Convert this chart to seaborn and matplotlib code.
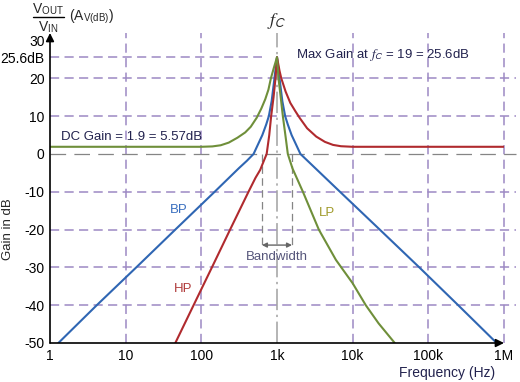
import numpy as np
import matplotlib
matplotlib.use("Agg")
import matplotlib.pyplot as plt
import seaborn as sns

# ---- data (frequency in Hz, gain in dB) ----
bp_freq = [1.29, 4.15, 13.8, 45.3, 150, 312, 400, 490, 560, 640, 720, 780, 850, 925, 1000,
           1080, 1176, 1282, 1389, 1560, 1785, 2040, 6800, 22800, 76000, 248000, 800000]
bp_gain = [-50, -40, -30, -20, -10, -3.8, -1.8, 0, 2.5, 5, 7.8, 10, 14, 20, 25.6,
           20, 14, 10, 7.8, 5, 2.5, 0, -10, -20, -30, -40, -50]

hp_freq = [45.3, 79, 138, 240, 420, 520, 600, 680, 730, 790, 837, 900, 955, 1000,
           1080, 1140, 1300, 1500, 1750, 2000, 2500, 3300, 4300, 5500, 7000, 10000, 1000000]
hp_gain = [-50, -40, -30, -20, -10, -6.3, -4.2, -1.5, 0, 5, 10, 15, 20, 25.6,
           22, 20, 16.5, 13.5, 11.3, 9.5, 6.8, 4.6, 3.2, 2.4, 2.05, 1.9, 1.9]

lp_freq = [1, 100, 140, 180, 230, 300, 380, 450, 540, 620, 700, 770, 830, 900, 1000,
           1047, 1120, 1195, 1300, 1390, 1600, 2200, 3570, 6000, 10000, 14900, 22000, 36000]
lp_gain = [1.9, 1.9, 2.0, 2.3, 3.0, 4.3, 5.7, 7.2, 9.6, 12, 14.5, 17, 20, 22.5, 25.6,
           20, 15, 10, 4.5, 0, -3.8, -10, -20, -28, -34.2, -40, -44.8, -50]

y_ticks = [-50, -40, -30, -20, -10, 0, 10, 20, 25.6, 30]
y_labels = ["-50", "-40", "-30", "-20", "-10", "0", "10", "20", "25.6dB", "30"]
x_ticks = [1, 10, 100, 1e3, 1e4, 1e5, 1e6]
x_labels = ["1", "10", "100", "1k", "10k", "100k", "1M"]

grid_h = [20, 10, -10, -20, -30, -40]
grid_v = [10, 100, 1e4, 1e5, 1e6]
bw_low, bw_high = 632, 1580

BLUE = "#2f66b3"
RED = "#b02a2e"
GREEN = "#6f8f3a"
PURPLE = "#9d89c3"
GRAY = "#858585"
NAVY = "#22224e"

sns.set_style("white")
plt.rcParams["font.family"] = ["Liberation Sans", "DejaVu Sans"]
plt.rcParams["mathtext.fontset"] = "stix"

W, H = 520, 382
fig = plt.figure(figsize=(W / 100, H / 100), dpi=100)
# axes placed in pixels: x 50..504, y 33..343
ax = fig.add_axes([50 / W, 1 - 343 / H, 454 / W, 310 / H])
ax.set_xscale("log")
ax.set_xlim(1, 1e6)
ax.set_ylim(-50, 32)
for s in ax.spines.values():
    s.set_visible(False)

# grid
for g in grid_h:
    ax.plot([1, 1.45e6], [g, g], color=PURPLE, lw=1.1, ls=(0, (6, 3.5)), clip_on=False, zorder=1)
for g in grid_v:
    ax.plot([g, g], [-50, 32], color=PURPLE, lw=1.1, ls=(0, (6, 3.5)), clip_on=False, zorder=1)
ax.plot([1, 630], [25.6, 25.6], color=PURPLE, lw=1.1, ls=(0, (6, 3.5)), zorder=1)
ax.plot([1, 1.45e6], [0, 0], color=GRAY, lw=0.9, ls=(0, (12.5, 6.6)), clip_on=False, zorder=1)
ax.plot([1000, 1000], [-50, 32], color="#a0a0a0", lw=1.1, ls=(0, (14, 3, 1.5, 3)), zorder=1)

# bandwidth markers
for f in [bw_low, bw_high]:
    ax.plot([f, f], [0, -24.3], color=GRAY, lw=0.9, ls=(0, (6, 3.5)), zorder=1)
ax.annotate("", xy=(bw_low, -24.1), xytext=(bw_high, -24.1),
            arrowprops=dict(arrowstyle="<|-|>", color="#666666", lw=1.0,
                            mutation_scale=7, shrinkA=0, shrinkB=0))
ax.text(1000, -27.2, "Bandwidth", color="#55557a", fontsize=9.5, ha="center", va="center")

# curves
sns.lineplot(x=bp_freq, y=bp_gain, ax=ax, color=BLUE, lw=1.5, zorder=3)
sns.lineplot(x=hp_freq, y=hp_gain, ax=ax, color=RED, lw=1.5, zorder=3)
sns.lineplot(x=lp_freq, y=lp_gain, ax=ax, color=GREEN, lw=1.5, zorder=3)

ax.text(50, -14.8, "BP", color="#3a6fbf", fontsize=9.5, ha="center", va="center")
ax.text(58, -35.8, "HP", color="#b03a3a", fontsize=9.5, ha="center", va="center")
ax.text(4600, -15.7, "LP", color="#a09a2a", fontsize=9.5, ha="center", va="center")

ax.text(1.4, 4.6, "DC Gain = 1.9 = 5.57dB", color=NAVY, fontsize=9.5, ha="left", va="center")
ax.text(1760, 26.2, r"Max Gain at $\mathit{f}_{\mathsf{C}}$ = 19 = 25.6dB",
        color=NAVY, fontsize=9.5, ha="left", va="center")

# axes arrows
ax.annotate("", xy=(1e6, -50), xytext=(1, -50), annotation_clip=False,
            arrowprops=dict(arrowstyle="-|>", color="black", lw=1.2,
                            mutation_scale=12, shrinkA=0, shrinkB=0))
ax.annotate("", xy=(1, 32), xytext=(1, -50), annotation_clip=False,
            arrowprops=dict(arrowstyle="-|>", color="black", lw=1.2,
                            mutation_scale=12, shrinkA=0, shrinkB=0))

# ticks
ax.set_xticks(x_ticks)
ax.set_xticklabels(x_labels)
ax.set_yticks(y_ticks)
ax.set_yticklabels(y_labels)
ax.minorticks_off()
ax.tick_params(axis="both", length=0, labelsize=10, colors="black")
ax.tick_params(axis="y", pad=4)
ax.tick_params(axis="x", pad=4)
ax.set_xlabel("")
ax.set_ylabel("")

# outer labels
fig.text(8 / W, 1 - 229 / H, "Gain in dB", rotation=90, fontsize=9.5, ha="center", va="center")
fig.text(447 / W, 1 - 373 / H, "Frequency (Hz)", fontsize=10, ha="center", va="center", color=NAVY)
fig.text(277 / W, 1 - 21 / H, r"$\mathit{f}_{\mathsf{C}}$", fontsize=13, ha="center", va="center")

fig.text(48 / W, 1 - 9 / H, r"V$_{\mathregular{OUT}}$", fontsize=10, ha="center", va="center")
fig.text(48 / W, 1 - 27 / H, r"V$_{\mathregular{IN}}$", fontsize=10, ha="center", va="center")
fig.add_artist(plt.Line2D([33 / W, 64 / W], [1 - 17 / H, 1 - 17 / H], color="black", lw=1.0))
fig.text(69 / W, 1 - 17 / H, r"(A$_{\mathregular{V(dB)}}$)", fontsize=10, ha="left", va="center")

fig.savefig("out.png", dpi=100)
